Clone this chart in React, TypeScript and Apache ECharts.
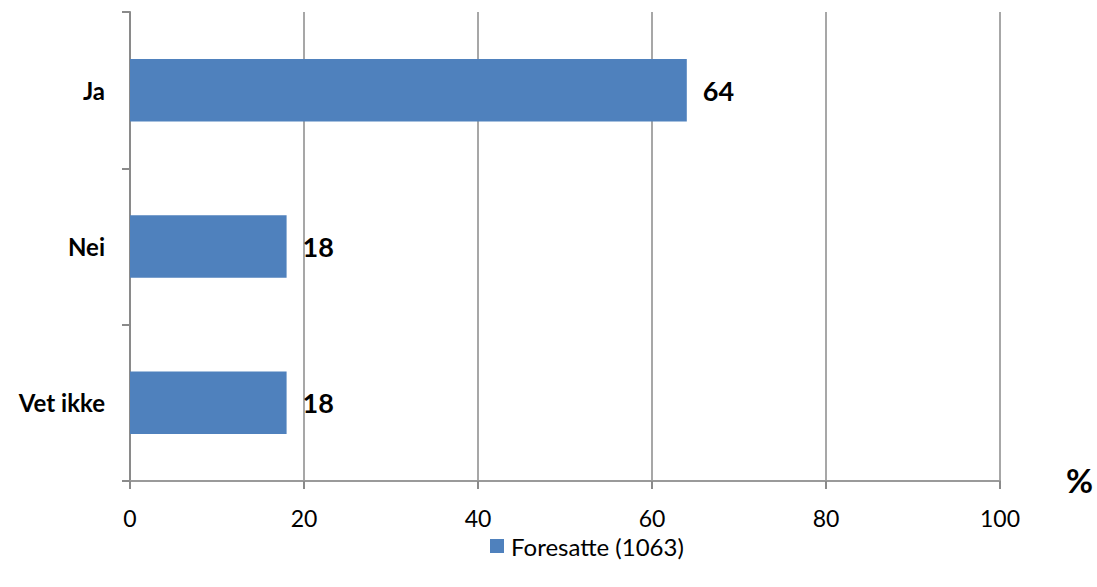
import React, { useEffect, useRef } from "react";
import * as echarts from "echarts";

const categories = ["Vet ikke", "Nei", "Ja"];
const values = [18, 18, 64];
const seriesName = "Foresatte (1063)";
const xTicks = [0, 20, 40, 60, 80, 100];

export default function App() {
  const ref = useRef<HTMLDivElement>(null);
  useEffect(() => {
    if (!ref.current) return;
    const chart = echarts.init(ref.current, null, { renderer: "svg" });
    const font = "Lato, 'Open Sans', sans-serif";
    chart.setOption({
      animation: false,
      textStyle: { fontFamily: font },
      grid: { left: 130, right: 97, top: 12, bottom: 106, containLabel: false },
      legend: {
        bottom: 24,
        left: 485,
        itemWidth: 14,
        itemHeight: 14,
        icon: "rect",
        itemGap: 6,
        textStyle: { fontSize: 24, color: "#000", fontFamily: font, padding: [0, 0, 0, 2] },
        data: [seriesName],
      },
      xAxis: {
        type: "value",
        min: xTicks[0],
        max: xTicks[xTicks.length - 1],
        interval: 20,
        axisLine: { show: true, lineStyle: { color: "#9a9a9a", width: 2 } },
        axisTick: { show: true, length: 8, lineStyle: { color: "#8a8a8a", width: 2 } },
        splitLine: { show: true, lineStyle: { color: "#8a8a8a", width: 1.5 } },
        axisLabel: { fontSize: 23, color: "#000", margin: 25, fontFamily: font },
      },
      yAxis: {
        type: "category",
        data: categories,
        axisLine: { show: true, lineStyle: { color: "#8a8a8a", width: 2 } },
        axisTick: { show: true, length: 8, lineStyle: { color: "#8a8a8a", width: 2 } },
        axisLabel: { fontSize: 24, fontWeight: "bold", color: "#000", margin: 25, fontFamily: font },
      },
      graphic: [
        {
          type: "text",
          left: 1066,
          top: 463,
          style: { text: "%", fontSize: 33, fontWeight: "bold", fill: "#000", fontFamily: font },
        },
      ],
      series: [
        {
          name: seriesName,
          type: "bar",
          data: values,
          barWidth: "40%",
          itemStyle: { color: "#4F81BD" },
          label: {
            show: true,
            position: "right",
            distance: 16,
            fontSize: 27,
            fontWeight: "bold",
            color: "#000",
            fontFamily: font,
          },
        },
      ],
    });
    return () => chart.dispose();
  }, []);
  return <div ref={ref} style={{ width: 1097, height: 587, position: "absolute", left: 0, top: 0 }} />;
}
